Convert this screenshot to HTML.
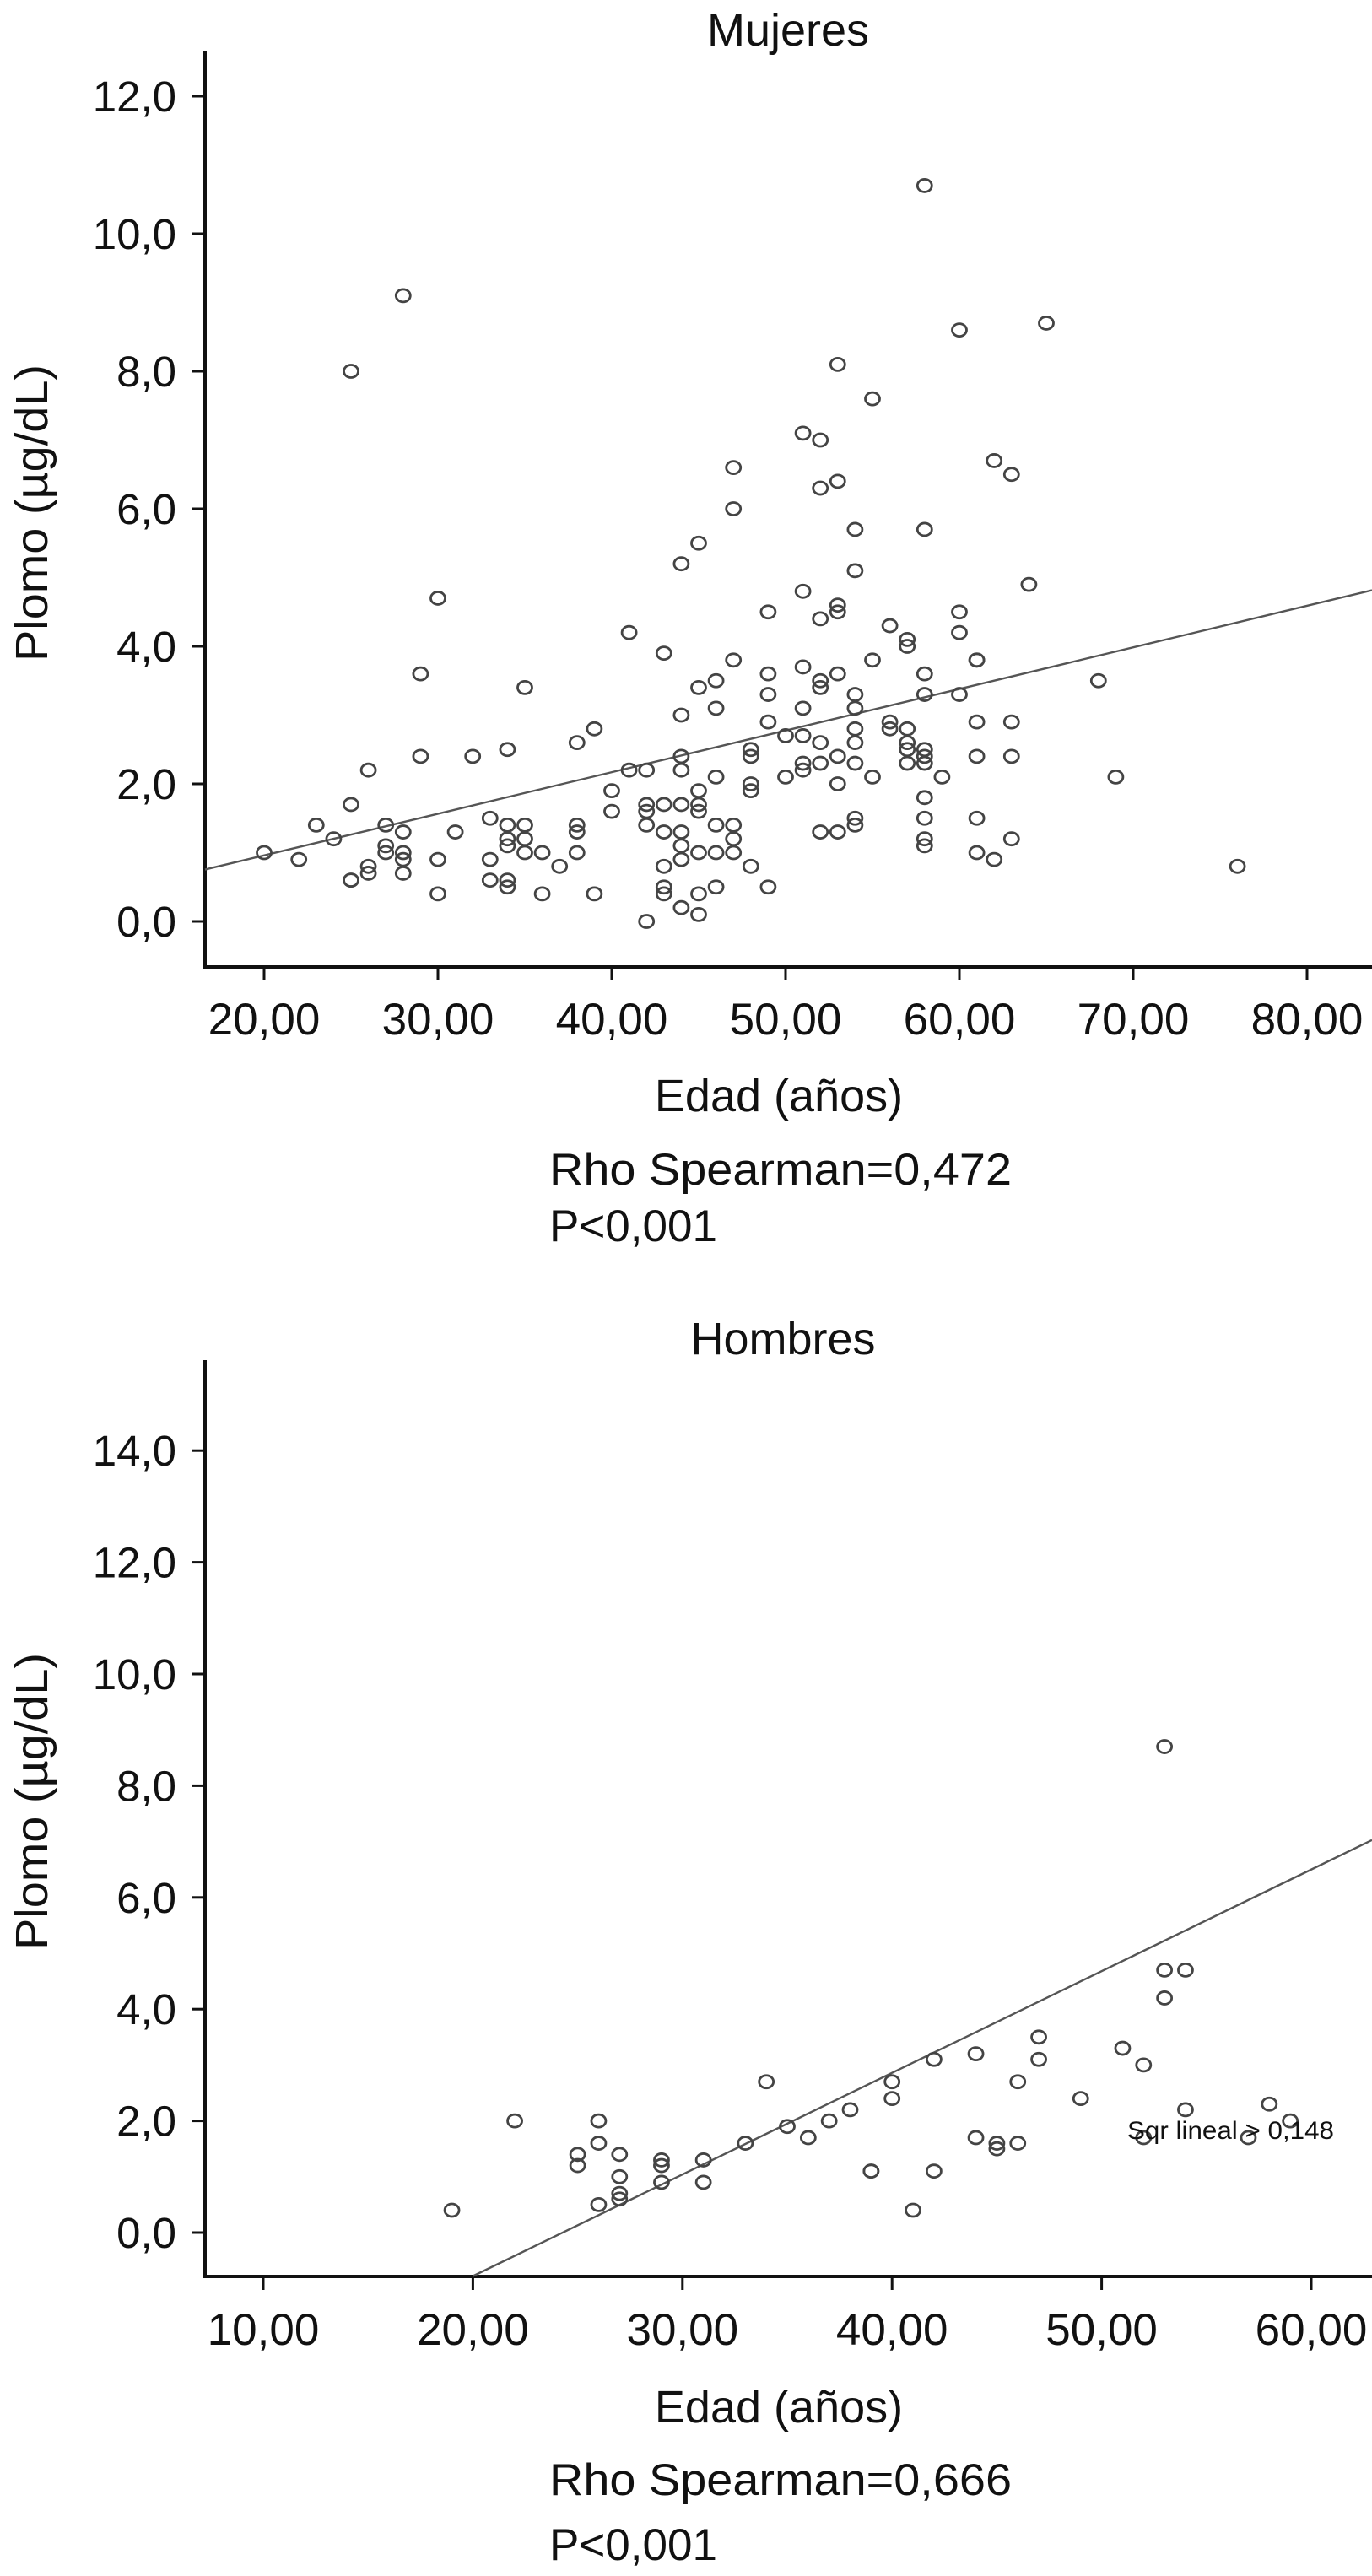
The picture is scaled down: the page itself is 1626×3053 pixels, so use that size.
<!DOCTYPE html>
<html><head><meta charset="utf-8">
<style>
html,body{margin:0;padding:0;background:#fff;}
svg{display:block;font-family:"Liberation Sans",Arial,sans-serif;}
</style></head>
<body>
<svg id="chart" width="1626" height="3053" viewBox="0 0 1626 3053" xmlns="http://www.w3.org/2000/svg">
<g id="top"></g>
<g id="bot"></g>
</svg>
<script>
// Mujeres data
const womenAge = [20,22,23,24,25,25,25,25,26,26,26,27,27,27,28,28,28,28,28,29,29,30,30,30,31,32,33,33,33,34,34,34,34,34,34,35,35,35,35,36,36,37,38,38,38,38,39,39,40,40,41,41,42,42,42,42,42,43,43,43,43,43,43,44,44,44,44,44,44,44,44,44,45,45,45,45,45,45,45,45,46,46,46,46,46,46,47,47,47,47,47,47,48,48,48,48,48,49,49,49,49,49,50,50,51,51,51,51,51,51,51,52,52,52,52,52,52,52,52,53,53,53,53,53,53,53,53,54,54,54,54,54,54,54,54,54,55,55,55,56,56,56,57,57,57,57,57,57,58,58,58,58,58,58,58,58,58,58,58,59,60,60,60,60,61,61,61,61,61,61,62,62,63,63,63,63,64,65,68,69,76];
const womenLead = [1.0,0.9,1.4,1.2,1.7,0.6,0.6,8.0,2.2,0.8,0.7,1.4,1.1,1.0,1.3,1.0,0.9,0.7,9.1,3.6,2.4,4.7,0.9,0.4,1.3,2.4,1.5,0.9,0.6,2.5,1.4,1.2,1.1,0.6,0.5,3.4,1.4,1.2,1.0,1.0,0.4,0.8,2.6,1.4,1.3,1.0,2.8,0.4,1.9,1.6,4.2,2.2,2.2,1.7,1.6,1.4,0.0,3.9,1.7,1.3,0.8,0.5,0.4,5.2,3.0,2.4,2.2,1.7,1.3,1.1,0.9,0.2,5.5,3.4,1.9,1.7,1.6,1.0,0.4,0.1,3.5,3.1,2.1,1.4,1.0,0.5,6.6,6.0,3.8,1.4,1.2,1.0,2.5,2.4,2.0,1.9,0.8,4.5,3.6,3.3,2.9,0.5,2.7,2.1,7.1,4.8,3.7,3.1,2.7,2.3,2.2,7.0,6.3,4.4,3.5,3.4,2.6,2.3,1.3,8.1,6.4,4.6,4.5,3.6,2.4,2.0,1.3,5.7,5.1,3.3,3.1,2.8,2.6,2.3,1.5,1.4,7.6,3.8,2.1,4.3,2.9,2.8,4.1,4.0,2.8,2.6,2.5,2.3,10.7,5.7,3.6,3.3,2.5,2.4,2.3,1.8,1.5,1.2,1.1,2.1,8.6,4.5,4.2,3.3,3.8,3.8,2.9,2.4,1.5,1.0,6.7,0.9,6.5,2.9,2.4,1.2,4.9,8.7,3.5,2.1,0.8];
const womenXTicks = ["20,00","30,00","40,00","50,00","60,00","70,00","80,00"];
const womenXTickVals = [20,30,40,50,60,70,80];
const womenYTicks = ["0,0","2,0","4,0","6,0","8,0","10,0","12,0"];
const womenYTickVals = [0,2,4,6,8,10,12];
const womenFit = [0.96, 0.0605]; // value at age 20, slope per year
// Hombres data
const menAge = [19,22,25,25,26,26,26,27,27,27,27,29,29,29,31,31,33,34,35,36,37,38,39,39,40,40,41,42,42,44,44,45,45,46,46,47,47,49,51,52,52,53,53,53,54,54,57,58,59];
const menLead = [0.4,2.0,1.4,1.2,2.0,1.6,0.5,1.4,1.0,0.7,0.6,1.3,1.2,0.9,1.3,0.9,1.6,2.7,1.9,1.7,2.0,2.2,1.1,1.1,2.7,2.4,0.4,3.1,1.1,3.2,1.7,1.6,1.5,2.7,1.6,3.5,3.1,2.4,3.3,3.0,1.7,8.7,4.7,4.2,4.7,2.2,1.7,2.3,2.0];
const menXTicks = ["10,00","20,00","30,00","40,00","50,00","60,00"];
const menXTickVals = [10,20,30,40,50,60];
const menYTicks = ["0,0","2,0","4,0","6,0","8,0","10,0","12,0","14,0"];
const menYTickVals = [0,2,4,6,8,10,12,14];
const menFit = [-0.78, 0.182];

const NS="http://www.w3.org/2000/svg";
function mk(parent, tag, attrs, text){
  const e=document.createElementNS(NS,tag);
  for(const k in attrs) e.setAttribute(k,attrs[k]);
  if(text!==undefined) e.textContent=text;
  parent.appendChild(e); return e;
}
function drawChart(g, cfg){
  const xs=v=>cfg.x0px+(v-cfg.x0v)*cfg.xppu;
  const ys=v=>cfg.y0px-v*cfg.yppu;
  const t=mk(g,'text',{x:cfg.titleX,y:cfg.titleY,'font-size':54,'text-anchor':'middle',fill:'#111'},cfg.title);
  
  
  const ya=mk(g,'line',{x1:cfg.left,y1:cfg.top,x2:cfg.left,y2:cfg.axisY+2,stroke:'#111','stroke-width':4});
  
  
  const xa=mk(g,'line',{x1:cfg.left-2,y1:cfg.axisY,x2:1626,y2:cfg.axisY,stroke:'#111','stroke-width':4});
  
  
  cfg.yVals.forEach((v,i)=>{
    const y=ys(v);
    const tk=mk(g,'line',{x1:cfg.left-15,y1:y,x2:cfg.left,y2:y,stroke:'#111','stroke-width':3});
    
    
    const lb=mk(g,'text',{x:cfg.left-34,y:y+18,'font-size':51,'text-anchor':'end',fill:'#111'},cfg.yLabels[i]);
    
    
  });
  cfg.xVals.forEach((v,i)=>{
    const x=xs(v);
    const tk=mk(g,'line',{x1:x,y1:cfg.axisY,x2:x,y2:cfg.axisY+16,stroke:'#111','stroke-width':3});
    
    
    const lb=mk(g,'text',{x:x,y:cfg.xLabelY,'font-size':53,'text-anchor':'middle',fill:'#111'},cfg.xLabels[i]);
    
    
  });
  const yt=mk(g,'text',{x:0,y:0,'font-size':54,'text-anchor':'middle',fill:'#111',textLength:352,lengthAdjust:'spacingAndGlyphs',transform:`translate(56,${cfg.yTitleY}) rotate(-90)`},'Plomo (µg/dL)');
  
  
  const xt=mk(g,'text',{x:923,y:cfg.xTitleY,'font-size':54,'text-anchor':'middle',fill:'#111'},'Edad (años)');
  
  
  const r=mk(g,'text',{x:651,y:cfg.rhoY,'font-size':53,fill:'#111',textLength:548,lengthAdjust:'spacingAndGlyphs'},cfg.rho);
  
  
  const p=mk(g,'text',{x:651,y:cfg.pY,'font-size':53,fill:'#111'},'P<0,001');
  
  
  const aL=cfg.lineStart, aR=cfg.x0v+(1626-cfg.x0px)/cfg.xppu;
  const f=a=>cfg.fit[0]+cfg.fit[1]*(a-20);
  const fl=mk(g,'line',{x1:xs(aL),y1:ys(f(aL)),x2:xs(aR),y2:ys(f(aR)),stroke:'#555','stroke-width':2.4});
  
  
  cfg.ages.forEach((a,i)=>{
    const c=mk(g,'ellipse',{cx:xs(a),cy:ys(cfg.vals[i]),rx:8.5,ry:7.5,fill:'none',stroke:'#444','stroke-width':2.8});
    
    
  });
}
drawChart(document.getElementById('top'),{
  title:'Mujeres',titleX:934,titleY:54,left:243,top:60,axisY:1146,
  x0px:313,x0v:20,xppu:20.6,y0px:1092,yppu:81.5,
  xVals:womenXTickVals,xLabels:womenXTicks,yVals:womenYTickVals,yLabels:womenYTicks,
  xLabelY:1226,yTitleY:608,xTitleY:1317,rhoY:1404,pY:1471,rho:'Rho Spearman=0,472',
  fit:womenFit,lineStart:16.6,ages:womenAge,vals:womenLead
});
drawChart(document.getElementById('bot'),{
  title:'Hombres',titleX:928,titleY:1605,left:243,top:1612,axisY:2698,
  x0px:312,x0v:10,xppu:24.84,y0px:2646,yppu:66.2,
  xVals:menXTickVals,xLabels:menXTicks,yVals:menYTickVals,yLabels:menYTicks,
  xLabelY:2779,yTitleY:2135,xTitleY:2871,rhoY:2957,pY:3034,rho:'Rho Spearman=0,666',
  fit:menFit,lineStart:20,ages:menAge,vals:menLead
});
const bg=document.getElementById('bot');
const sq=mk(bg,'text',{x:1336,y:2535,'font-size':30,fill:'#111',textLength:245,lengthAdjust:'spacingAndGlyphs'},'Sqr lineal > 0,148');


</script>
</body></html>
